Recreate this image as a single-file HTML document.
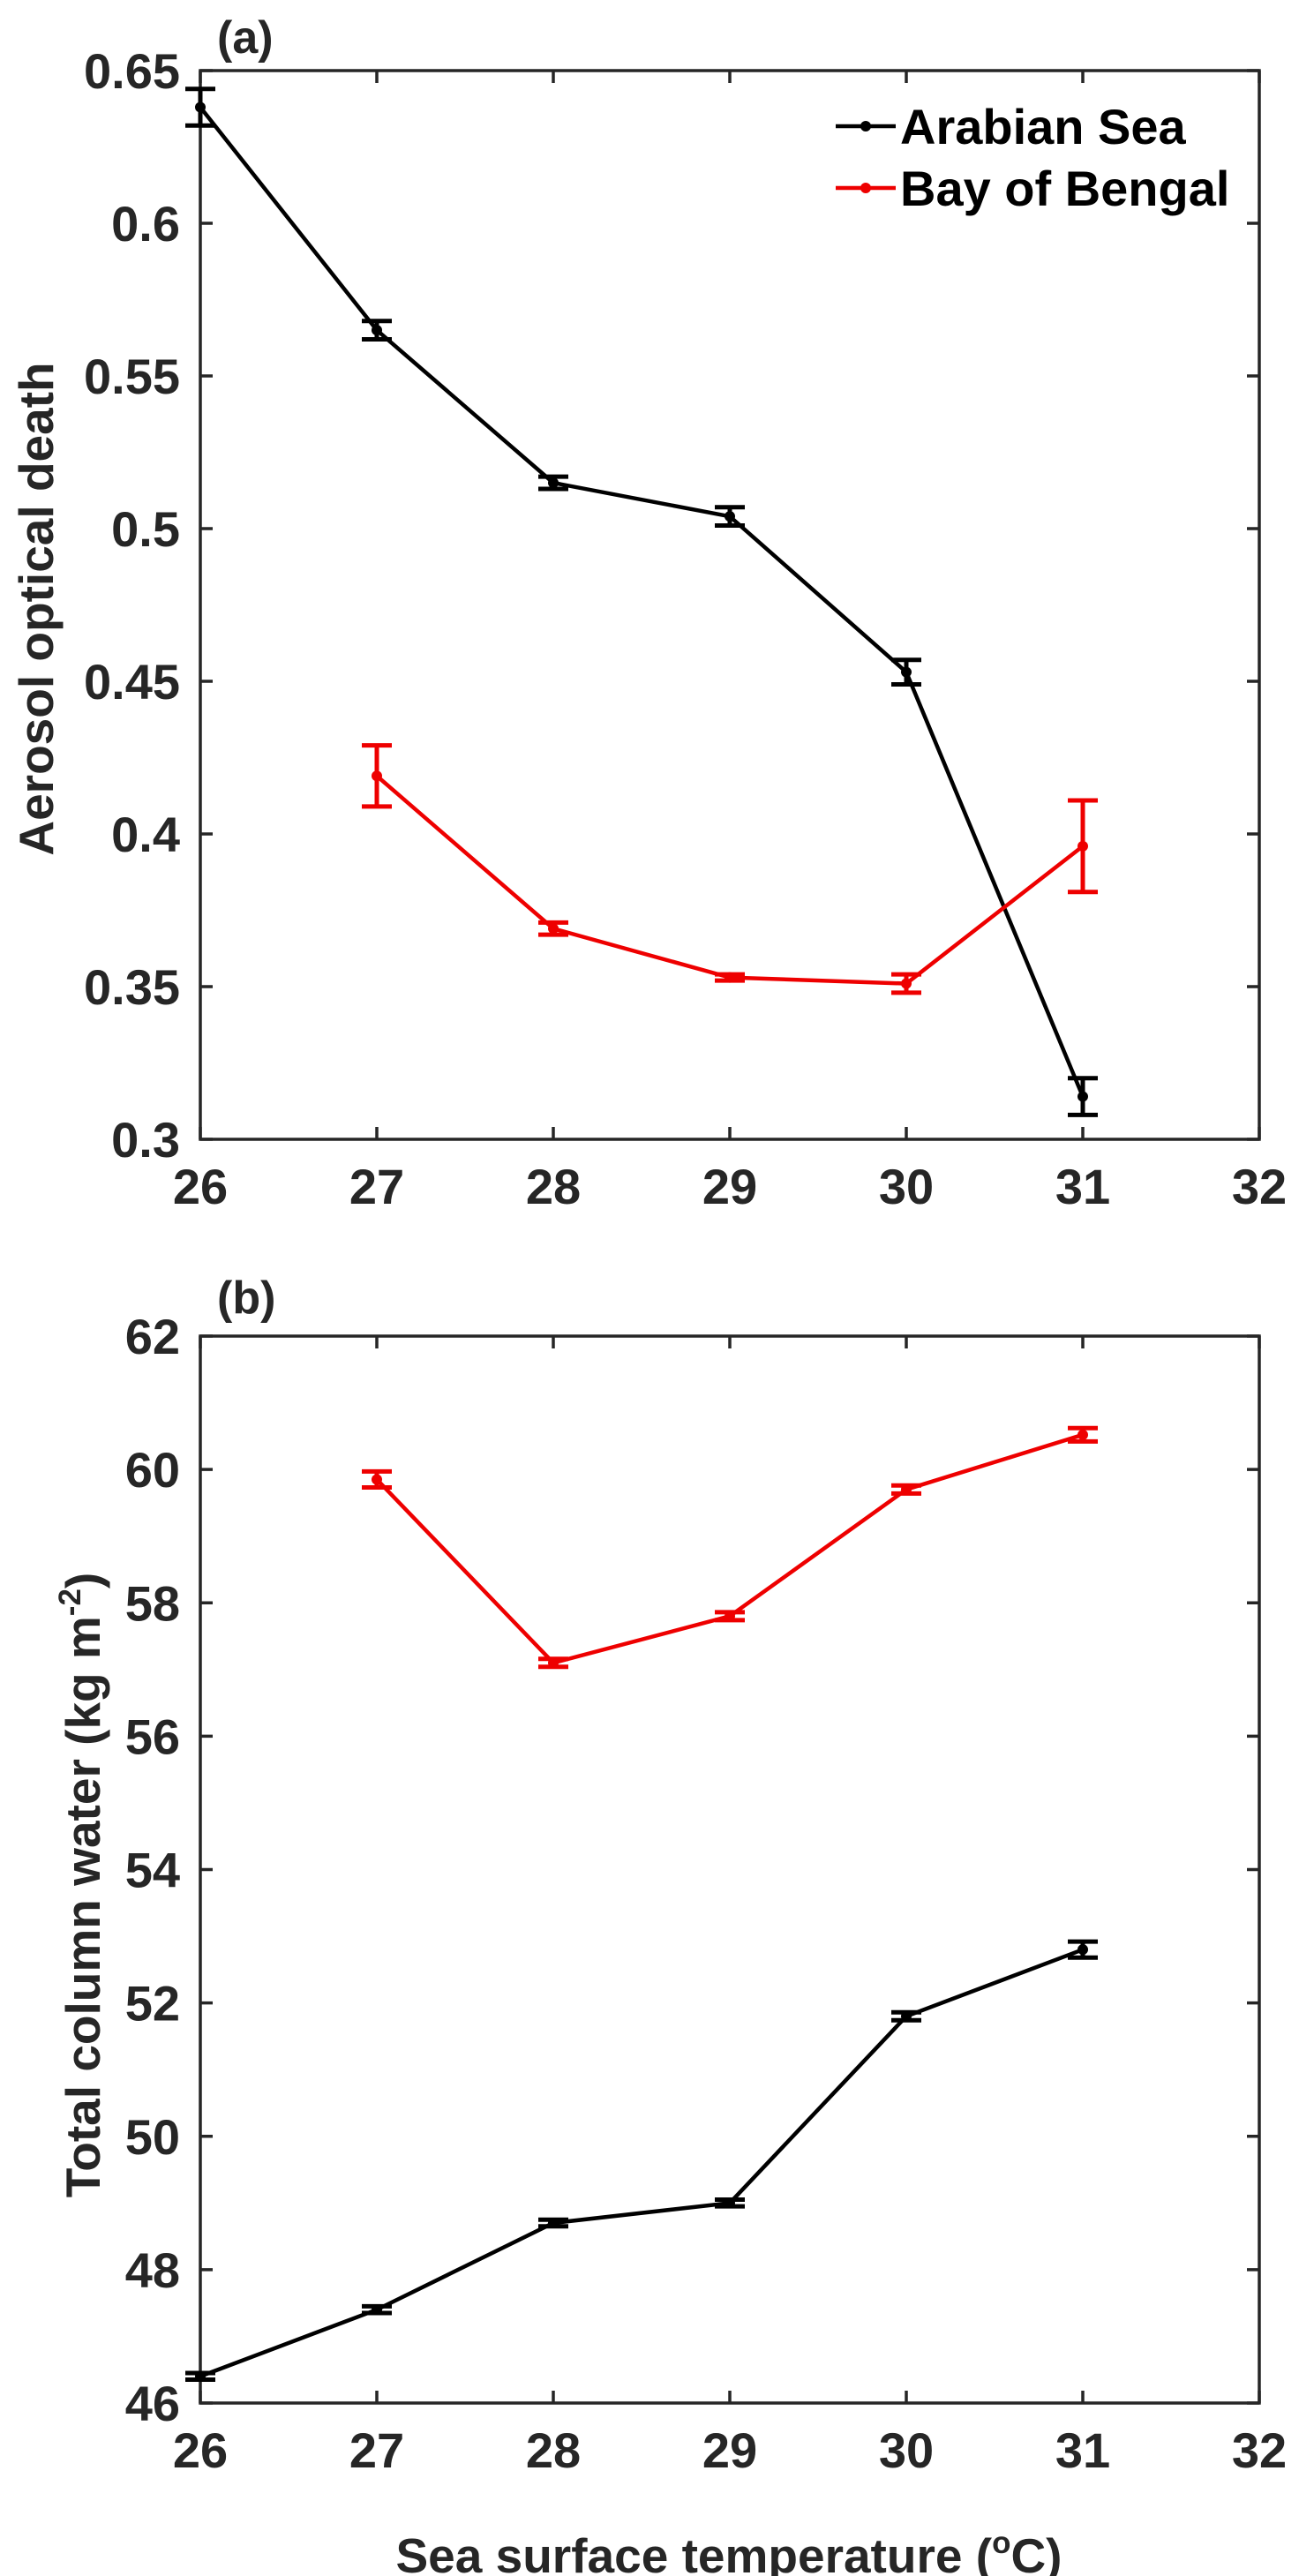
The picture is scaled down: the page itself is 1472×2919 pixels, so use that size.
<!DOCTYPE html>
<html><head><meta charset="utf-8"><style>
html,body{margin:0;padding:0;background:#fff;}
svg{display:block;font-family:"Liberation Sans",Arial,sans-serif;font-weight:bold;}
</style></head><body>
<svg id="fig" width="1472" height="2919" viewBox="0 0 1472 2919" xmlns="http://www.w3.org/2000/svg"></svg>
<script>
const xCats = [26, 27, 28, 29, 30, 31];
const xTicks = [26, 27, 28, 29, 30, 31, 32];
const aodArabian = [0.638, 0.565, 0.515, 0.504, 0.453, 0.314];
const aodArabianErr = [0.006, 0.003, 0.002, 0.003, 0.004, 0.006];
const aodBengalX = [27, 28, 29, 30, 31];
const aodBengal = [0.419, 0.369, 0.353, 0.351, 0.396];
const aodBengalErr = [0.010, 0.002, 0.001, 0.003, 0.015];
const aodTicks = [0.3, 0.35, 0.4, 0.45, 0.5, 0.55, 0.6, 0.65];
const aodTickLabels = ["0.3", "0.35", "0.4", "0.45", "0.5", "0.55", "0.6", "0.65"];
const tcwArabian = [46.4, 47.4, 48.7, 49.0, 51.8, 52.8];
const tcwArabianErr = [0.05, 0.05, 0.05, 0.05, 0.06, 0.12];
const tcwBengalX = [27, 28, 29, 30, 31];
const tcwBengal = [59.85, 57.1, 57.8, 59.7, 60.52];
const tcwBengalErr = [0.12, 0.06, 0.06, 0.06, 0.1];
const tcwTicks = [46, 48, 50, 52, 54, 56, 58, 60, 62];

const NS = "http://www.w3.org/2000/svg";
const svg = document.getElementById('fig');
function mk(tag, attrs, parent) {
  const e = document.createElementNS(NS, tag);
  for (const k in attrs) e.setAttribute(k, attrs[k]);
  (parent || svg).appendChild(e);
  return e;
}
const TXT = '#262626';

function panel(cfg) {
  const g = mk('g', {});
  
  
  const L = 227, R = 1427, T = cfg.top, B = cfg.bottom;
  const sx = v => L + (v - 26) / (32 - 26) * (R - L);
  const sy = v => B - (v - cfg.ymin) / (cfg.ymax - cfg.ymin) * (B - T);
  const box = mk('rect', {x: L, y: T, width: R - L, height: B - T, fill: 'none', stroke: TXT, 'stroke-width': 3.5}, g);
  
  
  xTicks.forEach(v => {
    const x = sx(v);
    mk('line', {x1: x, y1: B, x2: x, y2: B - 14, stroke: TXT, 'stroke-width': 3.5}, g);
    mk('line', {x1: x, y1: T, x2: x, y2: T + 14, stroke: TXT, 'stroke-width': 3.5}, g);
    const t = mk('text', {x: x, y: B + 73, 'text-anchor': 'middle', 'font-size': 56, fill: TXT}, g);
    t.textContent = v;
    
    
  });
  cfg.ticks.forEach((v, i) => {
    const y = sy(v);
    mk('line', {x1: L, y1: y, x2: L + 14, y2: y, stroke: TXT, 'stroke-width': 3.5}, g);
    mk('line', {x1: R, y1: y, x2: R - 14, y2: y, stroke: TXT, 'stroke-width': 3.5}, g);
    const t = mk('text', {x: 204, y: y + 20, 'text-anchor': 'end', 'font-size': 56, fill: TXT}, g);
    t.textContent = cfg.labels[i];
    
    
  });
  cfg.series.forEach(s => {
    const sg = mk('g', {}, g);
    
    
    const pts = s.x.map((xv, i) => sx(xv) + ',' + sy(s.y[i])).join(' ');
    mk('polyline', {points: pts, fill: 'none', stroke: s.color, 'stroke-width': 4.5}, sg);
    s.x.forEach((xv, i) => {
      const x = sx(xv), y1 = sy(s.y[i] + s.e[i]), y2 = sy(s.y[i] - s.e[i]);
      const eb = mk('path', {d: `M${x},${y1}V${y2}M${x-17},${y1}H${x+17}M${x-17},${y2}H${x+17}`, stroke: s.color, 'stroke-width': 5, fill: 'none'}, sg);
      
      
      const c = mk('circle', {cx: x, cy: sy(s.y[i]), r: 6, fill: s.color}, sg);
      
      
    });
  });
  const lbl = mk('text', {x: 246, y: cfg.labelY, 'font-size': 52, fill: TXT}, g);
  lbl.textContent = cfg.letter;
  
  
  return {g, sx, sy};
}

panel({name: 'panel-a-aod', top: 80, bottom: 1291, ymin: 0.3, ymax: 0.65, ticks: aodTicks, labels: aodTickLabels, letter: '(a)', labelY: 60,
  series: [
    {name: 'series-arabian-sea', x: xCats, y: aodArabian, e: aodArabianErr, color: '#000000'},
    {name: 'series-bay-of-bengal', x: aodBengalX, y: aodBengal, e: aodBengalErr, color: '#ee0000'}
  ]});
panel({name: 'panel-b-tcw', top: 1514, bottom: 2723, ymin: 46, ymax: 62, ticks: tcwTicks, labels: tcwTicks.map(String), letter: '(b)', labelY: 1488,
  series: [
    {name: 'series-bay-of-bengal', x: tcwBengalX, y: tcwBengal, e: tcwBengalErr, color: '#ee0000'},
    {name: 'series-arabian-sea', x: xCats, y: tcwArabian, e: tcwArabianErr, color: '#000000'}
  ]});

let t = mk('text', {x: 0, y: 0, transform: 'translate(60,690) rotate(-90)', 'text-anchor': 'middle', 'font-size': 55, fill: TXT});
t.textContent = 'Aerosol optical death';



t = mk('text', {x: 0, y: 0, transform: 'translate(113,2136) rotate(-90)', 'text-anchor': 'middle', 'font-size': 55, fill: TXT});
t.innerHTML = 'Total column water (kg m<tspan dy="-22" font-size="35">-2</tspan><tspan dy="22">)</tspan>';



t = mk('text', {x: 826, y: 2915, 'text-anchor': 'middle', 'font-size': 55, fill: TXT});
t.innerHTML = 'Sea surface temperature (<tspan dy="-22" font-size="35">o</tspan><tspan dy="22">C)</tspan>';



const lg = mk('g', {});


[['Arabian Sea', '#000000', 143], ['Bay of Bengal', '#ee0000', 213]].forEach(([name, col, y]) => {
  const e = mk('g', {}, lg);
  
  
  mk('line', {x1: 947, y1: y, x2: 1015, y2: y, stroke: col, 'stroke-width': 4.5}, e);
  mk('circle', {cx: 981, cy: y, r: 6, fill: col}, e);
  const tx = mk('text', {x: 1020, y: y + 20, 'font-size': 56, fill: '#000'}, e);
  tx.textContent = name;
});
</script>
</body></html>
